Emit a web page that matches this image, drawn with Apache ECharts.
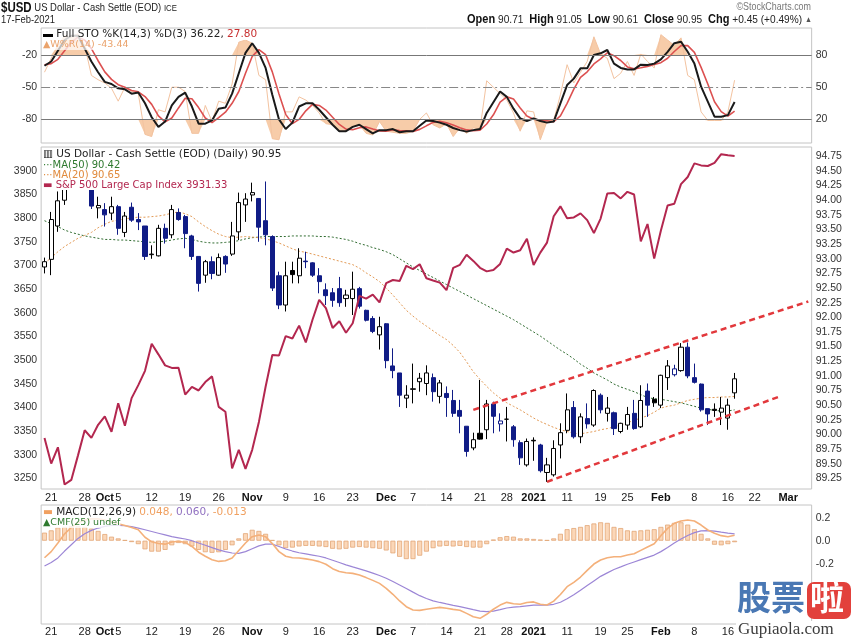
<!DOCTYPE html>
<html><head><meta charset="utf-8">
<script src="https://cdn.jsdelivr.net/npm/echarts@6/dist/echarts.min.js"></script>
<style>html,body{margin:0;padding:0;background:#fff}#c{width:855px;height:639px}</style>
</head><body><div id="c"></div>
<script>
// ---------- DATA ----------
const dates = ['2020-09-18','2020-09-21','2020-09-22','2020-09-23','2020-09-24','2020-09-25','2020-09-28','2020-09-29','2020-09-30','2020-10-01','2020-10-02',
'2020-10-05','2020-10-06','2020-10-07','2020-10-08','2020-10-09','2020-10-12','2020-10-13','2020-10-14','2020-10-15','2020-10-16',
'2020-10-19','2020-10-20','2020-10-21','2020-10-22','2020-10-23','2020-10-26','2020-10-27','2020-10-28','2020-10-29','2020-10-30',
'2020-11-02','2020-11-03','2020-11-04','2020-11-05','2020-11-06','2020-11-09','2020-11-10','2020-11-11','2020-11-12','2020-11-13',
'2020-11-16','2020-11-17','2020-11-18','2020-11-19','2020-11-20','2020-11-23','2020-11-24','2020-11-25','2020-11-27',
'2020-11-30','2020-12-01','2020-12-02','2020-12-03','2020-12-04','2020-12-07','2020-12-08','2020-12-09','2020-12-10','2020-12-11',
'2020-12-14','2020-12-15','2020-12-16','2020-12-17','2020-12-18','2020-12-21','2020-12-22','2020-12-23','2020-12-24',
'2020-12-28','2020-12-29','2020-12-30','2020-12-31','2021-01-04','2021-01-05','2021-01-06','2021-01-07','2021-01-08',
'2021-01-11','2021-01-12','2021-01-13','2021-01-14','2021-01-15','2021-01-19','2021-01-20','2021-01-21','2021-01-22',
'2021-01-25','2021-01-26','2021-01-27','2021-01-28','2021-01-29','2021-02-01','2021-02-02','2021-02-03','2021-02-04','2021-02-05',
'2021-02-08','2021-02-09','2021-02-10','2021-02-11','2021-02-12','2021-02-16','2021-02-17',
'2021-02-18','2021-02-19','2021-02-22','2021-02-23','2021-02-24','2021-02-25','2021-02-26','2021-03-01','2021-03-02','2021-03-03','2021-03-04'];

const xTickLabels = [['2020-09-21','21'],['2020-09-28','28'],['2020-10-01','Oct',1],['2020-10-05','5'],['2020-10-12','12'],['2020-10-19','19'],
['2020-10-26','26'],['2020-11-02','Nov',1],['2020-11-09','9'],['2020-11-16','16'],['2020-11-23','23'],['2020-12-01','Dec',1],['2020-12-07','7'],
['2020-12-14','14'],['2020-12-21','21'],['2020-12-28','28'],['2021-01-04','2021',1],['2021-01-11','11'],['2021-01-19','19'],['2021-01-25','25'],
['2021-02-01','Feb',1],['2021-02-08','8'],['2021-02-16','16'],['2021-02-22','22'],['2021-03-01','Mar',1]];

const usdOpen = [92.86,92.99,93.56,94.00,94.39,94.37,94.60,94.19,93.87,93.84,93.78,93.89,93.45,93.88,93.67,93.56,93.07,93.05,93.52,93.41,93.79,
93.72,93.39,93.04,92.72,92.95,92.72,93.04,93.08,93.46,93.92,94.09,94.03,93.65,93.38,92.71,92.21,92.80,92.71,92.96,92.93,
92.71,92.47,92.42,92.49,92.32,92.32,92.49,92.12,91.98,91.70,91.89,91.17,91.05,90.62,90.77,90.90,90.87,90.97,90.65,
90.70,90.58,90.41,90.14,89.77,90.02,90.08,90.52,90.18,90.26,90.13,89.86,89.48,89.90,89.82,89.35,89.31,89.82,
90.07,90.46,89.96,90.27,90.16,90.67,90.36,90.37,90.05,90.16,90.36,90.13,90.74,90.60,90.50,90.97,91.02,91.09,91.49,
90.97,90.86,90.44,90.43,90.38,90.28,90.71];
const usdHigh = [93.02,93.80,94.15,94.45,94.55,94.74,94.65,94.22,94.06,93.95,94.06,93.92,93.80,93.96,93.78,93.56,93.23,93.58,93.60,93.92,93.86,
93.75,93.41,93.04,92.98,93.04,93.09,93.06,93.63,94.13,94.12,94.30,94.03,94.32,93.40,92.78,92.95,92.95,93.18,93.12,92.94,
92.84,92.58,92.50,92.69,92.47,92.78,92.52,92.13,92.02,92.01,91.90,91.47,91.05,90.84,91.21,91.05,91.18,91.04,90.93,
90.82,90.76,90.59,90.14,90.03,90.93,90.59,90.56,90.36,90.47,90.16,89.90,89.93,89.95,89.84,89.60,89.90,90.19,
90.70,90.57,90.36,90.53,90.77,90.70,90.64,90.39,90.20,90.47,90.59,90.84,90.87,90.64,91.02,91.27,91.19,91.56,91.57,
91.21,90.87,90.44,90.53,90.64,90.61,91.05];
const usdLow = [92.75,92.72,93.46,93.92,94.22,94.30,94.20,93.85,93.69,93.55,93.66,93.41,93.37,93.63,93.49,92.98,93.00,93.04,93.26,93.35,93.65,
93.18,92.98,92.44,92.59,92.65,92.71,92.76,93.05,93.32,93.63,93.98,93.29,93.23,92.45,92.14,92.10,92.58,92.58,92.84,92.69,
92.41,92.21,92.18,92.18,92.18,92.04,92.15,91.93,91.73,91.45,91.13,90.96,90.47,90.45,90.53,90.73,90.67,90.56,90.53,
90.30,90.30,90.02,89.62,89.73,89.91,89.92,90.02,90.05,89.88,89.79,89.48,89.45,89.55,89.35,89.19,89.28,89.59,
90.02,89.93,89.85,90.10,90.13,90.36,90.22,89.99,90.02,90.08,90.08,90.11,90.30,90.47,90.45,90.76,90.99,91.07,90.96,
90.87,90.39,90.16,90.30,90.16,90.08,90.61];
const usdClose = [92.95,93.67,93.99,94.38,94.37,94.64,94.28,93.90,93.91,93.75,93.89,93.52,93.73,93.66,93.63,93.04,93.08,93.52,93.35,93.84,93.67,
93.43,93.04,92.58,92.95,92.75,93.02,92.91,93.39,93.96,94.02,94.13,93.54,93.41,92.50,92.21,92.71,92.73,93.01,92.95,92.72,
92.61,92.37,92.29,92.25,92.38,92.48,92.19,91.95,91.76,91.84,91.26,91.09,90.67,90.67,90.78,90.96,91.05,90.73,90.88,
90.63,90.36,90.31,89.71,89.91,89.92,90.52,90.31,90.23,90.26,89.91,89.60,89.88,89.89,89.38,89.48,89.76,90.03,
90.42,89.96,90.30,90.18,90.75,90.42,90.45,90.10,90.19,90.34,90.10,90.58,90.50,90.54,91.01,91.17,91.12,91.49,91.00,
90.89,90.42,90.35,90.41,90.45,90.50,90.95];

const ma50 = [93.65,93.60,93.55,93.49,93.45,93.42,93.39,93.37,93.35,93.33,93.33,93.32,93.32,93.31,93.30,93.29,93.28,93.29,93.30,93.32,93.34,
93.35,93.33,93.30,93.28,93.27,93.27,93.28,93.29,93.31,93.34,93.36,93.37,93.38,93.38,93.38,93.38,93.39,93.39,93.39,93.39,
93.38,93.38,93.37,93.35,93.33,93.30,93.26,93.23,93.19,93.16,93.12,93.07,93.00,92.93,92.86,92.80,92.74,92.68,92.62,
92.56,92.50,92.44,92.38,92.32,92.26,92.20,92.14,92.08,92.02,91.96,91.89,91.82,91.75,91.68,91.60,91.52,91.44,
91.37,91.29,91.20,91.13,91.05,90.99,90.93,90.86,90.81,90.77,90.73,90.68,90.63,90.61,90.60,90.58,90.56,90.54,90.51,
90.48,90.45,90.43,90.41,90.40,90.40,90.42];
const ma20 = [92.92,93.02,93.12,93.21,93.28,93.35,93.40,93.45,93.53,93.59,93.64,93.66,93.68,93.70,93.71,93.71,93.72,93.73,93.75,93.78,93.80,
93.77,93.72,93.63,93.55,93.48,93.42,93.38,93.36,93.37,93.38,93.37,93.36,93.34,93.31,93.27,93.22,93.17,93.13,93.11,93.08,
93.05,93.02,92.99,92.96,92.93,92.90,92.84,92.76,92.69,92.61,92.50,92.38,92.25,92.12,92.02,91.93,91.85,91.77,91.69,
91.62,91.52,91.40,91.24,91.07,90.94,90.82,90.71,90.62,90.54,90.48,90.42,90.35,90.28,90.22,90.17,90.12,90.08,
90.05,90.02,90.01,90.03,90.05,90.08,90.10,90.13,90.16,90.20,90.24,90.28,90.32,90.38,90.45,90.48,90.50,90.54,90.58,
90.60,90.62,90.63,90.63,90.64,90.64,90.65];

const spx = [3335.0,3281.06,3315.57,3236.92,3246.59,3298.46,3351.60,3335.47,3363.00,3380.80,3348.42,3408.60,3360.97,3419.44,3446.83,3477.13,
3534.22,3511.93,3488.67,3483.34,3483.81,3426.92,3443.12,3435.56,3453.49,3465.39,3400.97,3390.68,3271.03,3310.11,3269.96,
3310.24,3369.16,3443.44,3510.45,3509.44,3550.50,3545.53,3572.66,3537.01,3585.15,3626.91,3609.53,3567.79,3581.87,3557.54,
3577.59,3635.41,3629.65,3638.35,3621.63,3662.45,3669.01,3666.72,3699.12,3691.96,3702.25,3672.82,3668.10,3663.46,
3647.49,3694.62,3701.17,3722.48,3709.41,3694.92,3687.26,3690.01,3703.06,3735.36,3727.04,3732.04,3756.07,3700.65,
3726.86,3748.14,3803.79,3824.68,3799.61,3801.19,3809.84,3795.54,3768.25,3798.91,3851.85,3853.07,3841.47,3855.36,
3849.62,3750.77,3787.38,3714.24,3773.86,3826.31,3830.17,3871.74,3886.83,3915.59,3911.23,3909.88,3916.38,3934.83,
3932.59,3931.33];

// channel trendlines: [date, value] endpoints
const upperChannel = [['2020-12-18',90.42],['2021-03-04',92.27]];
const lowerChannel = [['2021-01-06',89.19],['2021-02-26',90.66]];

const stoK = [70,74,84,94,98,98,86,74,64,55,53,49,48,44,45,35,22,13,18,33,41,45,32,16,16,19,30,31,44,63,82,91,82,68,43,20,11,17,32,35,35,
29,22,15,9,9,13,15,11,7,10,10,11,8,9,9,14,19,18.5,17,15,12,10,8.6,10,11,26,36,46,41,30,21,18.5,21,18.5,17,18,35,
52,58,67.6,67.6,80,81.6,84.7,72,68,66.6,66.6,71,70.7,72,76,83,91,92.4,83,72,50.5,36.5,22.5,22.5,24,36.22];
const stoD = [71,72,76,84,92,96.7,94,86,74.7,64.3,57.3,52.3,50,47,45.7,41.3,34,23.3,17.7,21.3,30.7,39.7,39.3,31,21.3,17,21.7,26.7,35,46,63,
78.7,85,80.3,64.3,43.7,24.7,16,20,28,34,33,28.7,22,15.3,11,10.3,12.3,13,11,9.3,9,10.3,9.7,9.3,8.7,10.7,14,17.2,18.2,
16.8,14.7,12.3,10.2,9.5,9.9,15.7,24.3,36,41,39,30.7,23.2,20.2,19.3,18.8,17.8,23.3,35,48.3,59.2,64.4,71.7,76.4,82.1,
79.4,74.9,68.9,67.1,68.1,69.4,71.2,72.9,77,83.3,88.8,88.8,82.5,68.5,53,36.5,27.2,23,27.8];
const willR = [-36,-23,-11,-2,-3,0,-11,-39,-43,-46,-51,-63,-50,-54,-56,-94,-96,-71,-73,-50,-50,-54,-93,-93,-67,-82,-63,-65,-47,-8,-6,
-9,-39,-43,-98,-99,-73,-73,-59,-62,-67,-74,-84,-85,-91,-91,-87,-85,-93,-94.5,-82,-91,-92,-93,-93,-91,-80,-74,-85,-88,
-84,-96,-88,-93,-88,-89,-44,-50,-56,-62,-74,-91,-72,-73,-99,-82,-81,-57,-29,-46,-36,-26,-3,-19,-23,-42,-37,-26,-39,
-19,-26,-32,-1,-6,-11,-4,-39,-43,-73,-81,-81,-81,-73,-43.44];

const macd = [-0.148,-0.095,-0.02,0.06,0.115,0.155,0.18,0.19,0.19,0.18,0.165,0.148,0.132,0.115,0.095,0.03,-0.01,-0.025,-0.03,-0.012,-0.005,
-0.015,-0.05,-0.10,-0.135,-0.165,-0.18,-0.175,-0.15,-0.085,-0.02,0.035,0.05,0.035,-0.025,-0.095,-0.135,-0.148,-0.15,-0.158,-0.168,
-0.182,-0.205,-0.243,-0.268,-0.278,-0.284,-0.298,-0.321,-0.345,-0.371,-0.414,-0.466,-0.524,-0.574,-0.603,-0.606,-0.596,-0.588,-0.58,
-0.588,-0.597,-0.605,-0.632,-0.661,-0.675,-0.64,-0.596,-0.56,-0.536,-0.548,-0.552,-0.538,-0.532,-0.553,-0.559,-0.525,-0.468,
-0.40,-0.362,-0.316,-0.258,-0.203,-0.168,-0.148,-0.139,-0.139,-0.124,-0.113,-0.084,-0.055,-0.026,0.044,0.107,0.151,0.171,0.18,
0.171,0.136,0.093,0.064,0.044,0.035,0.048];
const macdSignal = [-0.22,-0.19,-0.15,-0.09,-0.035,0.02,0.06,0.09,0.11,0.125,0.132,0.134,0.13,0.122,0.11,0.095,0.08,0.065,0.05,0.035,0.025,
0.015,0.0,-0.02,-0.04,-0.06,-0.08,-0.095,-0.107,-0.11,-0.095,-0.07,-0.045,-0.03,-0.03,-0.05,-0.072,-0.09,-0.105,-0.115,-0.125,
-0.135,-0.15,-0.17,-0.19,-0.21,-0.228,-0.245,-0.262,-0.282,-0.303,-0.327,-0.355,-0.385,-0.415,-0.447,-0.478,-0.503,-0.523,-0.537,
-0.55,-0.562,-0.573,-0.586,-0.6,-0.613,-0.617,-0.612,-0.6,-0.585,-0.578,-0.573,-0.566,-0.56,-0.56,-0.56,-0.553,-0.535,
-0.505,-0.47,-0.43,-0.39,-0.35,-0.31,-0.28,-0.25,-0.228,-0.205,-0.185,-0.165,-0.145,-0.125,-0.095,-0.06,-0.02,0.015,0.045,
0.07,0.085,0.088,0.083,0.074,0.066,0.060];
const macdHist = [0.07,0.09,0.115,0.12,0.125,0.125,0.12,0.105,0.085,0.058,0.035,0.02,0.005,-0.012,-0.03,-0.075,-0.095,-0.095,-0.08,-0.04,-0.02,
-0.03,-0.05,-0.08,-0.1,-0.105,-0.1,-0.08,-0.04,0.02,0.065,0.095,0.085,0.06,0.005,-0.04,-0.065,-0.06,-0.05,-0.045,-0.045,
-0.05,-0.055,-0.07,-0.075,-0.07,-0.06,-0.055,-0.06,-0.065,-0.07,-0.085,-0.11,-0.14,-0.16,-0.16,-0.13,-0.095,-0.065,-0.05,
-0.045,-0.05,-0.045,-0.055,-0.06,-0.06,-0.03,0.01,0.03,0.04,0.035,0.02,0.02,0.015,0.01,0.005,0.02,0.06,
0.1,0.11,0.12,0.135,0.15,0.16,0.155,0.12,0.11,0.09,0.085,0.09,0.095,0.1,0.12,0.14,0.155,0.16,0.14,
0.1,0.06,0.02,-0.035,-0.04,-0.03,-0.013];

const stoTicks = [20,50,80];
const wrTicks = [-80,-50,-20];
const spxTicks = [3250,3300,3350,3400,3450,3500,3550,3600,3650,3700,3750,3800,3850,3900];
const usdTicks = [89.25,89.5,89.75,90,90.25,90.5,90.75,91,91.25,91.5,91.75,92,92.25,92.5,92.75,93,93.25,93.5,93.75,94,94.25,94.5,94.75];
const macdTicks = [-0.6,-0.4,-0.2,0,0.2];

// ---------- BUILD ----------
const FONT = '"Liberation Sans", Arial, sans-serif';
const NAVY = '#101c86';
const tickMap = {};
xTickLabels.forEach(t => { tickMap[t[0]] = t[2] ? '{b|' + t[1] + '}' : t[1]; });

const candleData = usdOpen.map((o, i) => {
  const c = usdClose[i];
  const prev = i > 0 ? usdClose[i - 1] : o;
  const col = c >= prev ? '#000' : NAVY;
  const fill = c > o ? '#fff' : col;
  return { value: [o, c, usdLow[i], usdHigh[i]],
    itemStyle: { color: fill, color0: fill, borderColor: col, borderColor0: col, borderWidth: 1 } };
});

const L = 41.15, R = 855 - 811.65;
const grids = [
  { left: L, right: R, top: 28, height: 115 },
  { left: L, right: R, top: 147, height: 342 },
  { left: L, right: R, top: 505, height: 119 }
].map(g => Object.assign({ show: true, borderColor: '#c4c4c4', borderWidth: 1, backgroundColor: '#fff' }, g));

function xAxis(gi, showLabels, margin) {
  return { type: 'category', gridIndex: gi, data: dates, boundaryGap: true,
    axisLine: { show: false }, axisTick: { show: false }, splitLine: { show: false },
    axisLabel: { show: showLabels, interval: 0, margin: margin, color: '#222', fontSize: 11, fontFamily: FONT,
      formatter: v => tickMap[v] || '',
      rich: { b: { fontWeight: 'bold', fontSize: 11, color: '#111', fontFamily: FONT } } } };
}
function yAxis(gi, pos, min, max, vals, fmt) {
  return { type: 'value', gridIndex: gi, position: pos, min: min, max: max, scale: true,
    axisLine: { show: false }, axisTick: { show: false }, splitLine: { show: false },
    axisLabel: { customValues: vals, margin: 4, color: '#333', fontSize: 10.5, fontFamily: FONT,
      formatter: fmt || (v => String(v)) } };
}

const wrUp = willR.map(v => Math.max(v, -20));
const wrDn = willR.map(v => Math.min(v, -80));
const NARROW = '"Liberation Sans Narrow", ' + FONT;

const option = {
  animation: false,
  backgroundColor: '#fff',
  grid: grids,
  xAxis: [xAxis(0, false, 0), xAxis(1, true, 3), xAxis(2, true, 2)],
  yAxis: [
    yAxis(0, 'left', -102, 5.2, wrTicks),
    yAxis(0, 'right', -2, 105.2, stoTicks),
    yAxis(1, 'left', 3227.4, 3950.1, spxTicks),
    yAxis(1, 'right', 89.068, 94.909, usdTicks, v => v.toFixed(2)),
    yAxis(2, 'right', -0.7243, 0.3104, macdTicks, v => v.toFixed(1))
  ],
  series: [
    // ---- STO panel ----
    { type: 'line', xAxisIndex: 0, yAxisIndex: 0, data: wrUp, symbol: 'none', lineStyle: { width: 0, opacity: 0 },
      areaStyle: { origin: -20, color: '#f6c7a0', opacity: 0.9 }, z: 1, silent: true },
    { type: 'line', xAxisIndex: 0, yAxisIndex: 0, data: wrDn, symbol: 'none', lineStyle: { width: 0, opacity: 0 },
      areaStyle: { origin: -80, color: '#f6c7a0', opacity: 0.9 }, z: 1, silent: true },
    { type: 'line', xAxisIndex: 0, yAxisIndex: 0, data: willR, symbol: 'none', lineStyle: { width: 1, color: '#f3c3a0' }, z: 2 },
    { type: 'line', xAxisIndex: 0, yAxisIndex: 1, data: stoD, symbol: 'none', lineStyle: { width: 1.6, color: '#dc5050' }, z: 3,
      markLine: { silent: true, symbol: 'none', label: { show: false },
        data: [
          { yAxis: 80, lineStyle: { color: '#777', width: 1, type: 'solid' } },
          { yAxis: 20, lineStyle: { color: '#777', width: 1, type: 'solid' } },
          { yAxis: 50, lineStyle: { color: '#888', width: 1, type: [9, 3, 2, 3] } }
        ] } },
    { type: 'line', xAxisIndex: 0, yAxisIndex: 1, data: stoK, symbol: 'none', lineStyle: { width: 2, color: '#1a1a1a' }, z: 4 },
    // ---- main panel ----
    { type: 'line', xAxisIndex: 1, yAxisIndex: 3, data: ma50, symbol: 'none', lineStyle: { width: 1, color: '#2f6b2f', type: [2, 2] }, z: 2 },
    { type: 'line', xAxisIndex: 1, yAxisIndex: 3, data: ma20, symbol: 'none', lineStyle: { width: 1, color: '#e39a55', type: [2, 2] }, z: 2 },
    { type: 'candlestick', xAxisIndex: 1, yAxisIndex: 3, data: candleData, barWidth: 4.6, z: 3 },
    { type: 'line', xAxisIndex: 1, yAxisIndex: 2, data: spx, symbol: 'none', lineStyle: { width: 2, color: '#b3274f' }, z: 4 },
    { type: 'line', xAxisIndex: 1, yAxisIndex: 3, data: upperChannel, symbol: 'none', lineStyle: { width: 2.5, color: '#e2383c', type: [6, 4] }, z: 5 },
    { type: 'line', xAxisIndex: 1, yAxisIndex: 3, data: lowerChannel, symbol: 'none', lineStyle: { width: 2.5, color: '#e2383c', type: [6, 4] }, z: 5 },
    // ---- MACD panel ----
    { type: 'bar', xAxisIndex: 2, yAxisIndex: 4, data: macdHist, barWidth: 5,
      itemStyle: { color: '#fbd7b8', borderColor: '#e2a676', borderWidth: 0.8 }, z: 1 },
    { type: 'line', xAxisIndex: 2, yAxisIndex: 4, data: macdSignal, symbol: 'none', lineStyle: { width: 1.2, color: '#9c86d6' }, z: 2 },
    { type: 'line', xAxisIndex: 2, yAxisIndex: 4, data: macd, symbol: 'none', lineStyle: { width: 1.6, color: '#f4b07a' }, z: 3 }
  ],
  graphic: [
    // header
    { type: 'text', x: 1, y: 1, scaleX: 0.82, style: { text: '{a|$USD} {n|US Dollar - Cash Settle (EOD)} {s|ICE}',
      rich: { a: { fontSize: 14, fontWeight: 'bold', fontFamily: NARROW, fill: '#111' },
              n: { fontSize: 11.5, fontFamily: NARROW, fill: '#222' },
              s: { fontSize: 9.5, fontFamily: NARROW, fill: '#222' } } } },
    { type: 'text', x: 1, y: 14, scaleX: 0.82, style: { text: '17-Feb-2021', fontSize: 11.5, fontFamily: NARROW, fill: '#222' } },
    { type: 'text', x: 811, y: 2, scaleX: 0.85, style: { text: '©StockCharts.com', textAlign: 'right', fontSize: 10.5, fontFamily: NARROW, fill: '#777' } },
    { type: 'text', x: 812, y: 13, scaleX: 0.88, style: { textAlign: 'right',
      text: '{b|Open} {n|90.71}  {b|High} {n|91.05}  {b|Low} {n|90.61}  {b|Close} {n|90.95}  {b|Chg} {n|+0.45 (+0.49%)} {t|▲}',
      rich: { b: { fontSize: 12.5, fontWeight: 'bold', fontFamily: NARROW, fill: '#111' },
              n: { fontSize: 11.5, fontFamily: NARROW, fill: '#222' },
              t: { fontSize: 8, fill: '#555' } } } },
    // STO legend
    { type: 'text', left: 43, top: 29, z: 50, style: { text: '{k|▬} Full STO %K(14,3) %D(3) 36.22, {r|27.80}',
      fontSize: 10.5, fontFamily: '"DejaVu Sans", ' + FONT, fill: '#222', backgroundColor: 'rgba(255,255,255,0.8)',
      rich: { k: { fill: '#000', fontSize: 10 }, r: { fill: '#c83030', fontSize: 10.5, fontFamily: '"DejaVu Sans", ' + FONT } } } },
    { type: 'text', left: 43, top: 40, z: 50, style: { text: '▲W%R(14) -43.44', fontSize: 9.5, fontFamily: '"DejaVu Sans", ' + FONT,
      fill: '#eaa36c', backgroundColor: 'rgba(255,255,255,0.7)' } },
    // main legend
    { type: 'text', left: 43, top: 149, z: 50, style: { text: '▥ US Dollar - Cash Settle (EOD) (Daily) 90.95', fontSize: 10.5,
      fontFamily: '"DejaVu Sans", ' + FONT, fill: '#222', backgroundColor: '#fff' } },
    { type: 'text', left: 43, top: 160, z: 50, style: { text: '···MA(50) 90.42', fontSize: 10, fontFamily: '"DejaVu Sans", ' + FONT,
      fill: '#2f7a2f', backgroundColor: '#fff' } },
    { type: 'text', left: 43, top: 170, z: 50, style: { text: '···MA(20) 90.65', fontSize: 10, fontFamily: '"DejaVu Sans", ' + FONT,
      fill: '#e08a3c', backgroundColor: '#fff' } },
    { type: 'text', left: 43, top: 180, z: 50, style: { text: '▬ S&P 500 Large Cap Index 3931.33', fontSize: 10,
      fontFamily: '"DejaVu Sans", ' + FONT, fill: '#b3274f', backgroundColor: '#fff' } },
    // MACD legend
    { type: 'text', left: 43, top: 507, z: 50, style: { text: '{o|▬} MACD(12,26,9) {o|0.048,} {p|0.060,} {o|-0.013}', fontSize: 10.5,
      fontFamily: '"DejaVu Sans", ' + FONT, fill: '#222', backgroundColor: 'rgba(255,255,255,0.8)',
      rich: { o: { fill: '#f0a060', fontSize: 10.5, fontFamily: '"DejaVu Sans", ' + FONT },
              p: { fill: '#9070c0', fontSize: 10.5, fontFamily: '"DejaVu Sans", ' + FONT } } } },
    { type: 'text', left: 43, top: 518, z: 50, style: { text: '▲CMF(25) undef', fontSize: 9.5, fontFamily: '"DejaVu Sans", ' + FONT,
      fill: '#2f7a2f', backgroundColor: 'rgba(255,255,255,0.8)' } },
    // watermark
    { type: 'text', left: 737, top: 580, z: 60, style: { text: '股票', fontSize: 34, fontWeight: 'bold',
      fontFamily: '"Noto Sans CJK SC", sans-serif', fill: '#4a78b4' } },
    { type: 'rect', left: 807, top: 582, z: 60, shape: { width: 44, height: 37, r: 7 }, style: { fill: '#e2413c' } },
    { type: 'text', left: 810, top: 580, z: 61, style: { text: '啦', fontSize: 34, fontWeight: 'bold',
      fontFamily: '"Noto Sans CJK SC", sans-serif', fill: '#fff' } },
    { type: 'text', left: 736, top: 621, z: 60, style: { text: 'Gupiaola.com', fontSize: 17, fontFamily: '"Liberation Serif", serif',
      fill: '#3d3d3d', backgroundColor: '#fff', padding: [0, 3, 0, 2] } }
  ]
};
const chart = echarts.init(document.getElementById('c'));
chart.setOption(option);
</script></body></html>
